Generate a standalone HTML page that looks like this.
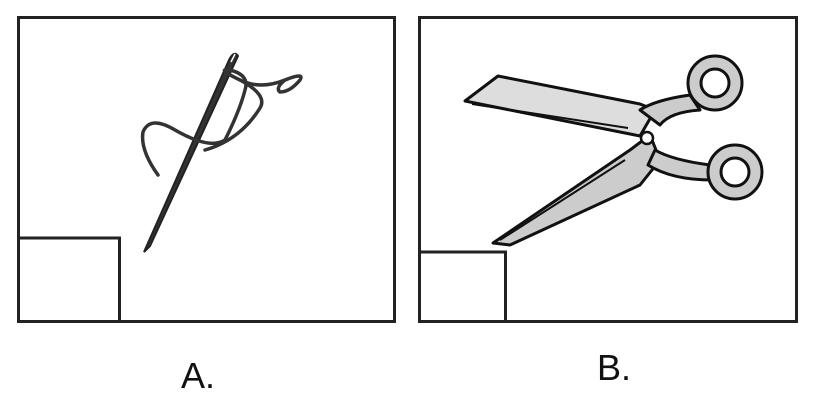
<!DOCTYPE html>
<html><head><meta charset="utf-8"><style>
body{margin:0;background:#fff;width:815px;height:404px;overflow:hidden}
svg{display:block}
text{font-family:"Liberation Sans",sans-serif}
</style></head><body>
<svg width="815" height="404" viewBox="0 0 815 404">
<g>
<rect x="18.5" y="17.5" width="376" height="304" fill="none" stroke="#222" stroke-width="3"/>
<rect x="18.5" y="238" width="101" height="83.5" fill="none" stroke="#222" stroke-width="3"/>
<g>
<path d="M144,252 L229,60 Q234,50 238,56 L150,246 Z" fill="#333" stroke="#222" stroke-width="2"/>
<path d="M231,62 L235,54" stroke="#fff" stroke-width="1.5"/>
</g>
<path d="M158,175 Q140,150 143,132 Q150,115 175,130 Q210,150 225,140 Q240,110 245,90 Q250,75 230,70 Q215,68 240,80 Q260,90 285,80 Q305,72 300,80 Q290,92 280,92 Q275,88 285,80 M240,80 Q268,95 260,108 Q240,140 205,150" fill="none" stroke="#333" stroke-width="3.5" stroke-linecap="round"/>
</g>
<g>
<rect x="419.5" y="17.5" width="377" height="304" fill="none" stroke="#222" stroke-width="3"/>
<rect x="419.5" y="252" width="86" height="69.5" fill="none" stroke="#222" stroke-width="3"/>
<g stroke="#111" stroke-width="3" stroke-linejoin="round">
<path d="M465,101 L498,76 L640,104 L655,110 L640,136 Z" fill="#ddd"/>
<path d="M472,104 L628,128" stroke-width="2" fill="none"/>
<path d="M493,243 L630,150 L650,135 L660,160 L640,185 L510,245 Z" fill="#ccc"/>
<path d="M500,240 L625,160" stroke-width="2" fill="none"/>
<path d="M640,110 Q655,100 690,95 L700,110 Q670,112 660,125 Z" fill="#ccc"/>
<path d="M655,150 Q672,160 710,165 L712,180 Q672,180 648,165 Z" fill="#ccc"/>
<circle cx="715" cy="83" r="27" fill="#ccc"/>
<circle cx="715" cy="83" r="14" fill="#fff"/>
<circle cx="735" cy="172" r="27" fill="#ccc"/>
<circle cx="735" cy="172" r="14" fill="#fff"/>
<circle cx="647" cy="138" r="6" fill="#fff" stroke-width="2.5"/>
</g>
</g>
<text x="198" y="388" font-size="36" text-anchor="middle" fill="#111">A.</text>
<text x="614" y="380" font-size="36" text-anchor="middle" fill="#111">B.</text>
</svg>
</body></html>
